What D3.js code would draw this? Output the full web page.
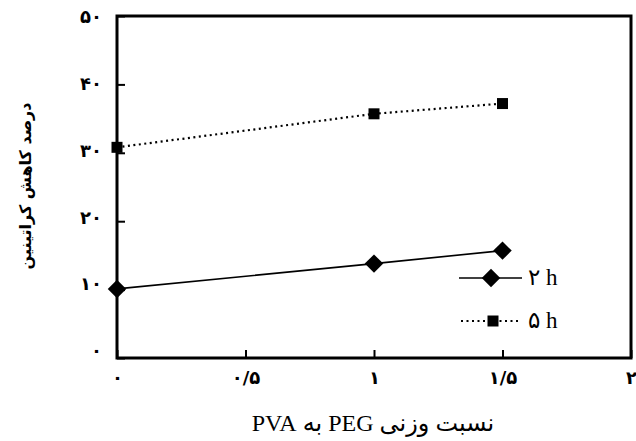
<!DOCTYPE html>
<html><head><meta charset="utf-8">
<script src="https://cdn.jsdelivr.net/npm/d3@7"></script>
<style>body{margin:0;background:#fff}svg{display:block}</style>
</head><body>
<svg id="c" width="636" height="441"></svg>
<script>
const xValues = [0, 1, 1.5];
const series2h = [10.1, 13.8, 15.7];
const series5h = [30.8, 35.7, 37.2];
const seriesNames = ["۲ h", "۵ h"];
const xTicks = [0, 0.5, 1, 1.5, 2];
const xTickLabels = ["۰", "۰/۵", "۱", "۱/۵", "۲"];
const yTicks = [0, 10, 20, 30, 40, 50];
const yTickLabels = ["۰", "۱۰", "۲۰", "۳۰", "۴۰", "۵۰"];
const xTitle = "نسبت وزنی PEG به PVA";
const yTitle = "درصد کاهش کراتینین";

const svg = d3.select("#c");
const L = 117, R = 631, T = 16, B = 358;
const x = d3.scaleLinear().domain([0, 2]).range([L, R]);
const y = d3.scaleLinear().domain([0, 50]).range([B, T]);
// label positions in the reference drift slightly from tick positions
const yLab = d3.scaleLinear().domain([0, 50]).range([351, 17]);

svg.append("rect").attr("x", L).attr("y", T).attr("width", R - L).attr("height", B - T)
  .attr("fill", "none").attr("stroke", "#000").attr("stroke-width", 3);

const xa = svg.append("g").attr("transform", `translate(0,${B})`)
  .call(d3.axisBottom(x).tickValues(xTicks).tickSize(-8).tickFormat((d, i) => xTickLabels[i]).tickPadding(13));
xa.select(".domain").remove();
xa.selectAll(".tick line").attr("stroke", "#000").attr("stroke-width", 2);
xa.selectAll(".tick text").attr("font-family", "DejaVu Sans").attr("font-weight", "bold")
  .attr("font-size", 18).attr("fill", "#000");

const ya = svg.append("g").attr("transform", `translate(${L},0)`)
  .call(d3.axisLeft(y).tickValues(yTicks).tickSize(-8).tickFormat((d, i) => yTickLabels[i]).tickPadding(15));
ya.select(".domain").remove();
ya.selectAll(".tick line").attr("stroke", "#000").attr("stroke-width", 2);
ya.selectAll(".tick text").attr("font-family", "DejaVu Sans").attr("font-weight", "bold")
  .attr("font-size", 18).attr("fill", "#000")
  .attr("transform", d => `translate(0,${yLab(d) - y(d)})`);

const line = d3.line().x(d => x(d[0])).y(d => y(d[1]));
const d2 = xValues.map((v, i) => [v, series2h[i]]);
const d5 = xValues.map((v, i) => [v, series5h[i]]);
svg.append("path").datum(d2).attr("d", line).attr("fill", "none").attr("stroke", "#000").attr("stroke-width", 1.6);
svg.append("path").datum(d5).attr("d", line).attr("fill", "none").attr("stroke", "#000")
  .attr("stroke-width", 2.2).attr("stroke-dasharray", "2,3.5");

const diamond = d3.symbol().type(d3.symbolSquare).size(170)();
svg.selectAll(".dm").data(d2).enter().append("path")
  .attr("d", diamond).attr("transform", d => `translate(${x(d[0])},${y(d[1])}) rotate(45)`).attr("fill", "#000");
const square = d3.symbol().type(d3.symbolSquare).size(121)();
svg.selectAll(".sq").data(d5).enter().append("path")
  .attr("d", square).attr("transform", d => `translate(${x(d[0])},${y(d[1])})`).attr("fill", "#000");

const lg = svg.append("g");
lg.append("line").attr("x1", 459).attr("x2", 522).attr("y1", 278).attr("y2", 278).attr("stroke", "#000").attr("stroke-width", 1.6);
lg.append("path").attr("d", diamond).attr("transform", "translate(491,278) rotate(45)").attr("fill", "#000");
lg.append("line").attr("x1", 461).attr("x2", 520).attr("y1", 321).attr("y2", 321).attr("stroke", "#000")
  .attr("stroke-width", 2.2).attr("stroke-dasharray", "2,3.5");
lg.append("path").attr("d", square).attr("transform", "translate(493,321)").attr("fill", "#000");
lg.selectAll("text").data(seriesNames).enter().append("text")
  .attr("x", 528).attr("y", (d, i) => [285, 328][i])
  .attr("font-family", "Liberation Serif, DejaVu Sans").attr("font-size", 23).attr("fill", "#000")
  .text(d => d);

svg.append("text").attr("x", 373).attr("y", 431).attr("text-anchor", "middle")
  .attr("direction", "rtl").attr("font-family", "Liberation Serif, DejaVu Sans").attr("font-size", 24)
  .attr("fill", "#000").text(xTitle);
svg.append("text").attr("transform", "translate(31,186) rotate(-90)").attr("text-anchor", "middle")
  .attr("direction", "rtl").attr("font-family", "DejaVu Sans").attr("font-weight", "bold").attr("font-size", 16)
  .attr("fill", "#000").text(yTitle);
</script>
</body></html>
